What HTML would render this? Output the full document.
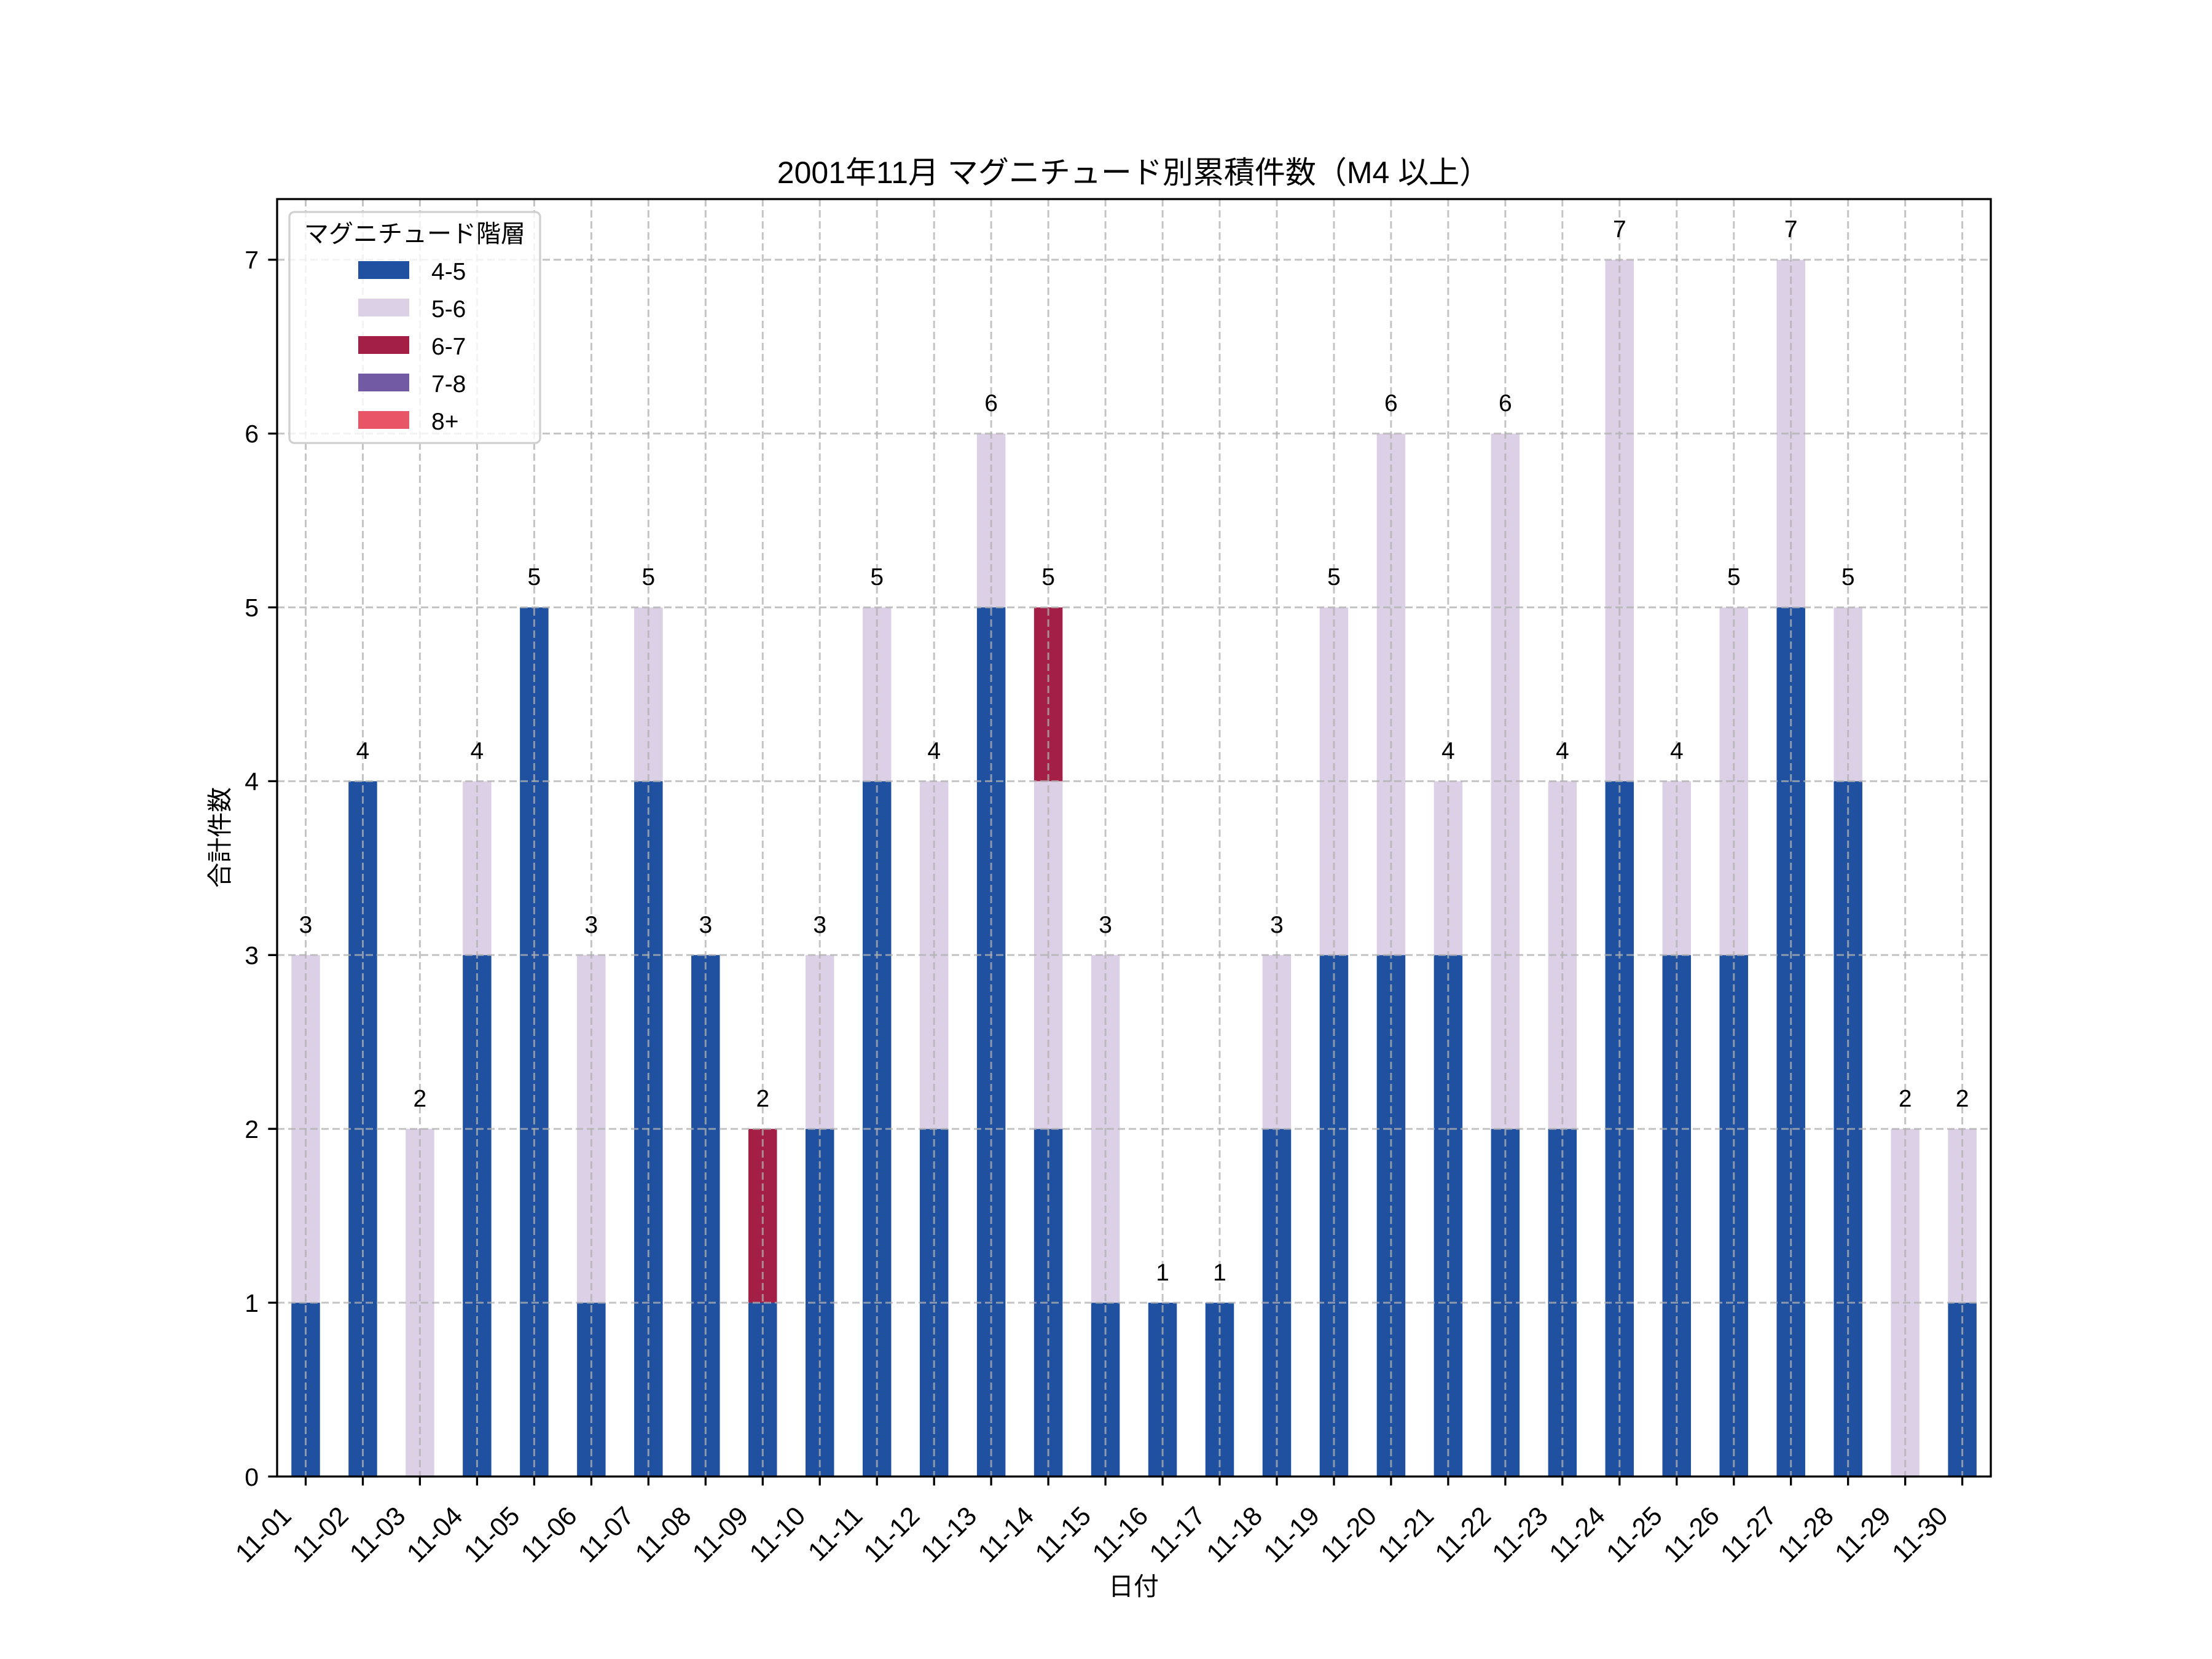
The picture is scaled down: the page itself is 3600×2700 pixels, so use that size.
<!DOCTYPE html>
<html><head><meta charset="utf-8"><style>
html,body{margin:0;padding:0;background:#fff}
svg{display:block}
text{font-family:"Liberation Sans","Noto Sans CJK JP",sans-serif;fill:#000}
</style></head><body>
<svg width="3600" height="2700" viewBox="0 0 3600 2700" xmlns="http://www.w3.org/2000/svg">
<rect width="3600" height="2700" fill="#fff"/>
<g transform="translate(497.5 2403) scale(92.97 -282.9)">
<g fill="#2050a0">
<rect x="-0.25" y="0" width="0.5" height="1"/>
<rect x="0.75" y="0" width="0.5" height="4"/>
<rect x="2.75" y="0" width="0.5" height="3"/>
<rect x="3.75" y="0" width="0.5" height="5"/>
<rect x="4.75" y="0" width="0.5" height="1"/>
<rect x="5.75" y="0" width="0.5" height="4"/>
<rect x="6.75" y="0" width="0.5" height="3"/>
<rect x="7.75" y="0" width="0.5" height="1"/>
<rect x="8.75" y="0" width="0.5" height="2"/>
<rect x="9.75" y="0" width="0.5" height="4"/>
<rect x="10.75" y="0" width="0.5" height="2"/>
<rect x="11.75" y="0" width="0.5" height="5"/>
<rect x="12.75" y="0" width="0.5" height="2"/>
<rect x="13.75" y="0" width="0.5" height="1"/>
<rect x="14.75" y="0" width="0.5" height="1"/>
<rect x="15.75" y="0" width="0.5" height="1"/>
<rect x="16.75" y="0" width="0.5" height="2"/>
<rect x="17.75" y="0" width="0.5" height="3"/>
<rect x="18.75" y="0" width="0.5" height="3"/>
<rect x="19.75" y="0" width="0.5" height="3"/>
<rect x="20.75" y="0" width="0.5" height="2"/>
<rect x="21.75" y="0" width="0.5" height="2"/>
<rect x="22.75" y="0" width="0.5" height="4"/>
<rect x="23.75" y="0" width="0.5" height="3"/>
<rect x="24.75" y="0" width="0.5" height="3"/>
<rect x="25.75" y="0" width="0.5" height="5"/>
<rect x="26.75" y="0" width="0.5" height="4"/>
<rect x="28.75" y="0" width="0.5" height="1"/>
</g>
<g fill="#dcd0e6">
<rect x="-0.25" y="1" width="0.5" height="2"/>
<rect x="1.75" y="0" width="0.5" height="2"/>
<rect x="2.75" y="3" width="0.5" height="1"/>
<rect x="4.75" y="1" width="0.5" height="2"/>
<rect x="5.75" y="4" width="0.5" height="1"/>
<rect x="8.75" y="2" width="0.5" height="1"/>
<rect x="9.75" y="4" width="0.5" height="1"/>
<rect x="10.75" y="2" width="0.5" height="2"/>
<rect x="11.75" y="5" width="0.5" height="1"/>
<rect x="12.75" y="2" width="0.5" height="2"/>
<rect x="13.75" y="1" width="0.5" height="2"/>
<rect x="16.75" y="2" width="0.5" height="1"/>
<rect x="17.75" y="3" width="0.5" height="2"/>
<rect x="18.75" y="3" width="0.5" height="3"/>
<rect x="19.75" y="3" width="0.5" height="1"/>
<rect x="20.75" y="2" width="0.5" height="4"/>
<rect x="21.75" y="2" width="0.5" height="2"/>
<rect x="22.75" y="4" width="0.5" height="3"/>
<rect x="23.75" y="3" width="0.5" height="1"/>
<rect x="24.75" y="3" width="0.5" height="2"/>
<rect x="25.75" y="5" width="0.5" height="2"/>
<rect x="26.75" y="4" width="0.5" height="1"/>
<rect x="27.75" y="0" width="0.5" height="2"/>
<rect x="28.75" y="1" width="0.5" height="1"/>
</g>
<g fill="#a31f45">
<rect x="7.75" y="1" width="0.5" height="1"/>
<rect x="12.75" y="4" width="0.5" height="1"/>
</g>
</g>
<g stroke="#b0b0b0" stroke-opacity="0.75" stroke-width="3" stroke-dasharray="12,6" fill="none">
<path d="M451 2120.1H3240M451 1837.2H3240M451 1554.3H3240M451 1271.4H3240M451 988.5H3240M451 705.6H3240M451 422.7H3240"/>
<path d="M497.5 324V2403M590.5 324V2403M683.4 324V2403M776.4 324V2403M869.4 324V2403M962.4 324V2403M1055.3 324V2403M1148.3 324V2403M1241.3 324V2403M1334.2 324V2403M1427.2 324V2403M1520.2 324V2403M1613.1 324V2403M1706.1 324V2403M1799.1 324V2403M1892.1 324V2403M1985 324V2403M2078 324V2403M2171 324V2403M2263.9 324V2403M2356.9 324V2403M2449.9 324V2403M2542.8 324V2403M2635.8 324V2403M2728.8 324V2403M2821.8 324V2403M2914.7 324V2403M3007.7 324V2403M3100.7 324V2403M3193.6 324V2403"/>
</g>
<g font-size="39" text-anchor="middle">
<text x="497.5" y="1518">3</text><text x="590.5" y="1235">4</text><text x="683.4" y="1801">2</text><text x="776.4" y="1235">4</text><text x="869.4" y="952">5</text><text x="962.4" y="1518">3</text><text x="1055.3" y="952">5</text><text x="1148.3" y="1518">3</text><text x="1241.3" y="1801">2</text><text x="1334.2" y="1518">3</text><text x="1427.2" y="952">5</text><text x="1520.2" y="1235">4</text><text x="1613.1" y="669">6</text><text x="1706.1" y="952">5</text><text x="1799.1" y="1518">3</text><text x="1892.1" y="2084">1</text><text x="1985" y="2084">1</text><text x="2078" y="1518">3</text><text x="2171" y="952">5</text><text x="2263.9" y="669">6</text><text x="2356.9" y="1235">4</text><text x="2449.9" y="669">6</text><text x="2542.8" y="1235">4</text><text x="2635.8" y="386">7</text><text x="2728.8" y="1235">4</text><text x="2821.8" y="952">5</text><text x="2914.7" y="386">7</text><text x="3007.7" y="952">5</text><text x="3100.7" y="1801">2</text><text x="3193.6" y="1801">2</text>
</g>
<rect x="451" y="324" width="2789" height="2079" fill="none" stroke="#000" stroke-width="3.3"/>
<g stroke="#000" stroke-width="3.3">
<path d="M451 2403h-14.6M451 2120.1h-14.6M451 1837.2h-14.6M451 1554.3h-14.6M451 1271.4h-14.6M451 988.5h-14.6M451 705.6h-14.6M451 422.7h-14.6"/>
<path d="M497.5 2403v14.6M590.5 2403v14.6M683.4 2403v14.6M776.4 2403v14.6M869.4 2403v14.6M962.4 2403v14.6M1055.3 2403v14.6M1148.3 2403v14.6M1241.3 2403v14.6M1334.2 2403v14.6M1427.2 2403v14.6M1520.2 2403v14.6M1613.1 2403v14.6M1706.1 2403v14.6M1799.1 2403v14.6M1892.1 2403v14.6M1985 2403v14.6M2078 2403v14.6M2171 2403v14.6M2263.9 2403v14.6M2356.9 2403v14.6M2449.9 2403v14.6M2542.8 2403v14.6M2635.8 2403v14.6M2728.8 2403v14.6M2821.8 2403v14.6M2914.7 2403v14.6M3007.7 2403v14.6M3100.7 2403v14.6M3193.6 2403v14.6"/>
</g>
<g font-size="41" text-anchor="end">
<text x="421" y="2418">0</text><text x="421" y="2135">1</text><text x="421" y="1852">2</text><text x="421" y="1569">3</text><text x="421" y="1286">4</text><text x="421" y="1003">5</text><text x="421" y="720">6</text><text x="421" y="437">7</text>
</g>
<g font-size="43" text-anchor="end">
<text transform="translate(476.5,2470) rotate(-45)">11-01</text>
<text transform="translate(569.5,2470) rotate(-45)">11-02</text>
<text transform="translate(662.4,2470) rotate(-45)">11-03</text>
<text transform="translate(755.4,2470) rotate(-45)">11-04</text>
<text transform="translate(848.4,2470) rotate(-45)">11-05</text>
<text transform="translate(941.4,2470) rotate(-45)">11-06</text>
<text transform="translate(1034.3,2470) rotate(-45)">11-07</text>
<text transform="translate(1127.3,2470) rotate(-45)">11-08</text>
<text transform="translate(1220.3,2470) rotate(-45)">11-09</text>
<text transform="translate(1313.2,2470) rotate(-45)">11-10</text>
<text transform="translate(1406.2,2470) rotate(-45)">11-11</text>
<text transform="translate(1499.2,2470) rotate(-45)">11-12</text>
<text transform="translate(1592.1,2470) rotate(-45)">11-13</text>
<text transform="translate(1685.1,2470) rotate(-45)">11-14</text>
<text transform="translate(1778.1,2470) rotate(-45)">11-15</text>
<text transform="translate(1871.1,2470) rotate(-45)">11-16</text>
<text transform="translate(1964,2470) rotate(-45)">11-17</text>
<text transform="translate(2057,2470) rotate(-45)">11-18</text>
<text transform="translate(2150,2470) rotate(-45)">11-19</text>
<text transform="translate(2242.9,2470) rotate(-45)">11-20</text>
<text transform="translate(2335.9,2470) rotate(-45)">11-21</text>
<text transform="translate(2428.9,2470) rotate(-45)">11-22</text>
<text transform="translate(2521.8,2470) rotate(-45)">11-23</text>
<text transform="translate(2614.8,2470) rotate(-45)">11-24</text>
<text transform="translate(2707.8,2470) rotate(-45)">11-25</text>
<text transform="translate(2800.8,2470) rotate(-45)">11-26</text>
<text transform="translate(2893.7,2470) rotate(-45)">11-27</text>
<text transform="translate(2986.7,2470) rotate(-45)">11-28</text>
<text transform="translate(3079.7,2470) rotate(-45)">11-29</text>
<text transform="translate(3172.6,2470) rotate(-45)">11-30</text>
</g>
<text x="1845" y="298" font-size="50" text-anchor="middle">2001年11月 マグニチュード別累積件数（M4 以上）</text>
<text x="1845" y="2596" font-size="41" text-anchor="middle">日付</text>
<text transform="translate(372,1363) rotate(-90)" font-size="41" text-anchor="middle">合計件数</text>
<rect x="471" y="345" width="408" height="376" rx="8" fill="#fff" fill-opacity="0.8" stroke="#d0d0d0" stroke-width="3.3"/>
<text x="675" y="394" font-size="40" text-anchor="middle">マグニチュード階層</text>
<rect x="583" y="425" width="83" height="29" fill="#2050a0"/>
<rect x="583" y="486" width="83" height="29" fill="#dcd0e6"/>
<rect x="583" y="547" width="83" height="29" fill="#a31f45"/>
<rect x="583" y="608" width="83" height="29" fill="#735ba3"/>
<rect x="583" y="669" width="83" height="29" fill="#e85566"/>
<g font-size="39">
<text x="702" y="455">4-5</text>
<text x="702" y="516">5-6</text>
<text x="702" y="577">6-7</text>
<text x="702" y="638">7-8</text>
<text x="702" y="699">8+</text>
</g>
</svg>
</body></html>
